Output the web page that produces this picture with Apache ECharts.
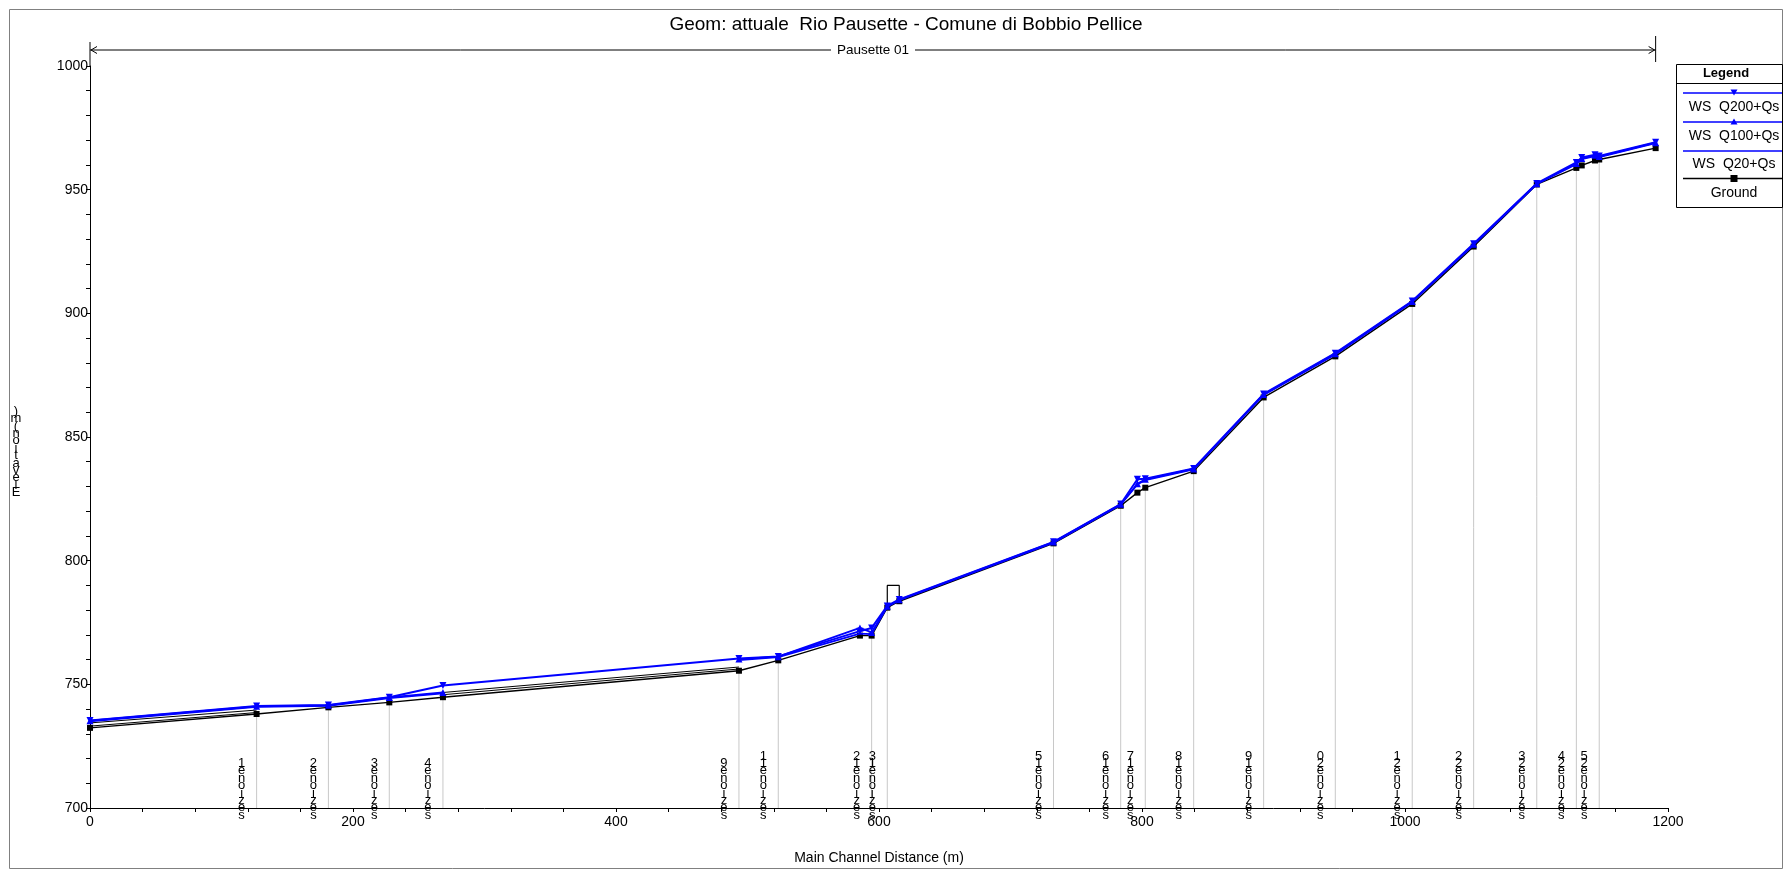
<!DOCTYPE html>
<html><head><meta charset="utf-8">
<script src="https://cdn.jsdelivr.net/npm/echarts@6/dist/echarts.min.js"></script>
<style>html,body{margin:0;padding:0;background:#fff}#c{width:1784px;height:870px}</style>
</head><body><div id="c"></div>
<script>
// ---- data ----
const titleText = 'Geom: attuale  Rio Pausette - Comune di Bobbio Pellice';
const reachName = 'Pausette 01';
const stations = [0,126.7,181.3,227.6,268.4,493.5,523.4,585.5,594.4,606.3,615.4,732.7,783.8,796.5,802.5,839.3,892.5,947,1005.5,1052.2,1100.2,1130.3,1134.4,1144.5,1147.7,1190.6];
const ground  = [732.4,738.0,740.7,742.7,744.8,755.5,759.7,769.7,769.7,781.0,783.6,807.0,822.2,827.5,829.5,836.2,866.0,882.6,903.8,927.0,952.1,958.8,959.8,961.8,962.2,966.8];
const wsQ200  = [735.4,741.2,741.6,744.8,749.5,760.4,761.3,771.5,772.8,781.7,784.3,807.6,822.9,832.9,833.1,837.3,867.4,883.9,905.0,928.1,952.5,961.0,963.0,964.1,963.6,969.2];
const wsQ100  = [735.3,741.1,741.5,744.7,746.7,760.2,761.2,772.8,771.0,781.6,784.2,807.5,822.8,831.1,832.9,837.1,867.2,883.7,904.8,927.9,952.4,960.6,962.6,963.9,963.4,969.0];
const wsQ20   = [735.0,740.9,741.3,744.4,746.4,759.8,761.0,770.5,770.3,781.4,784.0,807.3,822.6,830.8,832.6,836.9,867.0,883.4,904.6,927.7,952.3,960.3,962.3,963.6,963.2,968.8];
const wsBreakAfter = [4];           // Q100/Q20 lines not drawn in blue between these stations
const sectionLabels = [null,'1','2','3','4','9','11',null,'12','13',null,'15','16',null,'17','18','19','20','21','22','23','24',null,null,'25',null];
// dark secondary lines visible under the water surface
const band1Upper = [[0,734.4],[126.7,739.6]];
const band1Lower = [[0,733.1],[126.7,738.6]];
const band2Upper = [[268.4,746.7],[493.5,757.0]];
const band2Lower = [[268.4,745.8],[493.5,756.2]];
// culvert outline
const culvert = [[606.3,781.0],[606.3,790.0],[615.4,790.0],[615.4,783.6]];
const xTicks = {min:0, max:1200, interval:200};
const yTicks = {min:700, max:1000, interval:50};

// ---- build ----
const FONT = '"Liberation Sans", Arial, sans-serif';
function pairs(ys, breaks){
  const out=[];
  stations.forEach((x,i)=>{ out.push([x, ys[i]]); if(breaks && breaks.includes(i)) out.push([x,'-']); });
  return out;
}
const secData=[], secLab=[];
stations.forEach((x,i)=>{ if(sectionLabels[i]!==null){ secData.push([x, ground[i]]); secLab.push(sectionLabels[i]); } });
function stack(lab){ return ('sezione'+lab).split('').reverse().join('\n'); }

const chart = echarts.init(document.getElementById('c'), null, {renderer:'canvas'});
const blue = '#0000ff';
const option = {
  animation:false,
  backgroundColor:'#fff',
  grid:{left:90, right:116, top:66, bottom:52, containLabel:false},
  xAxis:{type:'value', min:xTicks.min, max:xTicks.max, interval:xTicks.interval,
    name:'Main Channel Distance (m)', nameLocation:'middle', nameGap:43,
    nameTextStyle:{fontFamily:FONT, fontSize:14, color:'#000'},
    axisLine:{show:true, onZero:false, lineStyle:{color:'#000', width:1}},
    axisTick:{show:true, length:4, lineStyle:{color:'#000'}},
    minorTick:{show:true, splitNumber:5, length:4, lineStyle:{color:'#000'}},
    splitLine:{show:false},
    axisLabel:{fontFamily:FONT, fontSize:14, color:'#000', margin:7, formatter:v=>String(v)}},
  yAxis:{type:'value', min:yTicks.min, max:yTicks.max, interval:yTicks.interval,
    axisLine:{show:true, onZero:false, lineStyle:{color:'#000', width:1}},
    axisTick:{show:true, length:4, lineStyle:{color:'#000'}},
    minorTick:{show:true, splitNumber:5, length:4, lineStyle:{color:'#000'}},
    splitLine:{show:false},
    axisLabel:{fontFamily:FONT, fontSize:14, color:'#000', margin:2, formatter:v=>String(v)}},
  series:[
    {type:'custom', z:1, clip:false, data:secData, silent:true,
      renderItem:function(params, api){
        const x=api.value(0), g=api.value(1);
        const t=api.coord([x,g]), b=api.coord([x,yTicks.min]);
        const lab=secLab[params.dataIndex];
        return {type:'group', children:[
          {type:'line', shape:{x1:t[0],y1:t[1],x2:b[0],y2:b[1]}, style:{stroke:'#c8c8c8', lineWidth:1}},
          {type:'text', style:{text:stack(lab), x:b[0]-15, y:b[1]+11, align:'center', verticalAlign:'bottom',
            fontFamily:FONT, fontSize:13, lineHeight:7.4, fill:'#000'}}
        ]};
      }},
    {type:'line', name:'band1u', data:band1Upper, symbol:'none', z:2, lineStyle:{color:'#000', width:1}},
    {type:'line', name:'band1l', data:band1Lower, symbol:'none', z:2, lineStyle:{color:'#000', width:1}},
    {type:'line', name:'band2u', data:band2Upper, symbol:'none', z:2, lineStyle:{color:'#000', width:1}},
    {type:'line', name:'band2l', data:band2Lower, symbol:'none', z:2, lineStyle:{color:'#000', width:1}},
    {type:'line', name:'culvert', data:culvert, symbol:'none', z:2, lineStyle:{color:'#000', width:1.2}},
    {type:'line', name:'Ground', data:pairs(ground), symbol:'rect', symbolSize:6, z:3,
      itemStyle:{color:'#000'}, lineStyle:{color:'#000', width:1.4}},
    {type:'line', name:'WS Q20+Qs', data:pairs(wsQ20, wsBreakAfter), symbol:'none', z:4, connectNulls:false,
      lineStyle:{color:blue, width:1.8}},
    {type:'line', name:'WS Q100+Qs', data:pairs(wsQ100, wsBreakAfter), symbol:'triangle', symbolSize:7, z:5, connectNulls:false,
      itemStyle:{color:blue}, lineStyle:{color:blue, width:1.8}},
    {type:'line', name:'WS Q200+Qs', data:pairs(wsQ200), symbol:'triangle', symbolRotate:180, symbolSize:7, z:6,
      itemStyle:{color:blue}, lineStyle:{color:blue, width:2}}
  ]
};
chart.setOption(option);

// ---- decorations ----
const p0 = chart.convertToPixel({gridIndex:0}, [0, yTicks.max]);
const pEnd = chart.convertToPixel({gridIndex:0}, [stations[stations.length-1], yTicks.max]);
const arrowY = 50;
const xL = p0[0], xR = pEnd[0];
const midX = 873;
const g = [];
// frame
g.push({type:'rect', shape:{x:9.5,y:9.5,width:1773,height:859}, style:{fill:'none', stroke:'#808080', lineWidth:1}, silent:true});
// title
g.push({type:'text', x:906, y:25, style:{text:titleText, fontFamily:FONT, fontSize:19, fill:'#000', align:'center', verticalAlign:'middle'}});
// y axis extension
g.push({type:'line', shape:{x1:xL, y1:p0[1], x2:xL, y2:arrowY-8}, style:{stroke:'#000', lineWidth:1}});
// reach arrow
g.push({type:'line', shape:{x1:xL, y1:arrowY, x2:midX-42, y2:arrowY}, style:{stroke:'#000', lineWidth:1}});
g.push({type:'line', shape:{x1:midX+42, y1:arrowY, x2:xR, y2:arrowY}, style:{stroke:'#000', lineWidth:1}});
g.push({type:'polyline', shape:{points:[[xL+7,arrowY-3.5],[xL+1,arrowY],[xL+7,arrowY+3.5]]}, style:{stroke:'#000', fill:'none', lineWidth:1}});
g.push({type:'polyline', shape:{points:[[xR-7,arrowY-3.5],[xR-1,arrowY],[xR-7,arrowY+3.5]]}, style:{stroke:'#000', fill:'none', lineWidth:1}});
g.push({type:'line', shape:{x1:xR, y1:arrowY-14, x2:xR, y2:arrowY+12}, style:{stroke:'#000', lineWidth:1}});
g.push({type:'text', x:midX, y:arrowY, style:{text:reachName, fontFamily:FONT, fontSize:13.5, fill:'#000', align:'center', verticalAlign:'middle'}});
// y axis name (stacked)
g.push({type:'text', x:16, y:452, style:{text:'Elevation (m)'.replace(' ','').split('').reverse().join('\n'), fontFamily:FONT, fontSize:13, lineHeight:7.4, fill:'#000', align:'center', verticalAlign:'middle'}});
// legend box
const LX=1676, LR=1782, LT=64, LB=207, LC=1734;
g.push({type:'rect', shape:{x:LX+0.5,y:LT+0.5,width:LR-LX,height:LB-LT}, style:{fill:'#fff', stroke:'#000', lineWidth:1}});
g.push({type:'line', shape:{x1:LX, y1:83.5, x2:LR, y2:83.5}, style:{stroke:'#000', lineWidth:1}});
g.push({type:'text', x:LC-8, y:73.5, style:{text:'Legend', fontFamily:FONT, fontSize:13, fontWeight:'bold', fill:'#000', align:'center', verticalAlign:'middle'}});
const rows = [
  {y:93, txt:'WS  Q200+Qs', ty:107.5, color:blue, sym:'down'},
  {y:122, txt:'WS  Q100+Qs', ty:136, color:blue, sym:'up'},
  {y:151, txt:'WS  Q20+Qs', ty:164.5, color:blue, sym:null},
  {y:178.5, txt:'Ground', ty:193.5, color:'#000', sym:'sq'}
];
rows.forEach(r=>{
  g.push({type:'line', shape:{x1:1683, y1:r.y, x2:LR, y2:r.y}, style:{stroke:r.color, lineWidth:1.5}});
  if(r.sym==='down') g.push({type:'polygon', shape:{points:[[LC-3.5,r.y-3.5],[LC+3.5,r.y-3.5],[LC,r.y+2.5]]}, style:{fill:r.color}});
  if(r.sym==='up') g.push({type:'polygon', shape:{points:[[LC-3.5,r.y+2.5],[LC+3.5,r.y+2.5],[LC,r.y-3.5]]}, style:{fill:r.color}});
  if(r.sym==='sq') g.push({type:'rect', shape:{x:LC-3.5,y:r.y-3.5,width:7,height:7}, style:{fill:r.color}});
  g.push({type:'text', x:LC, y:r.ty, style:{text:r.txt, fontFamily:FONT, fontSize:14, fill:'#000', align:'center', verticalAlign:'middle'}});
});
chart.setOption({graphic:{elements:g}});
</script>
</body></html>
